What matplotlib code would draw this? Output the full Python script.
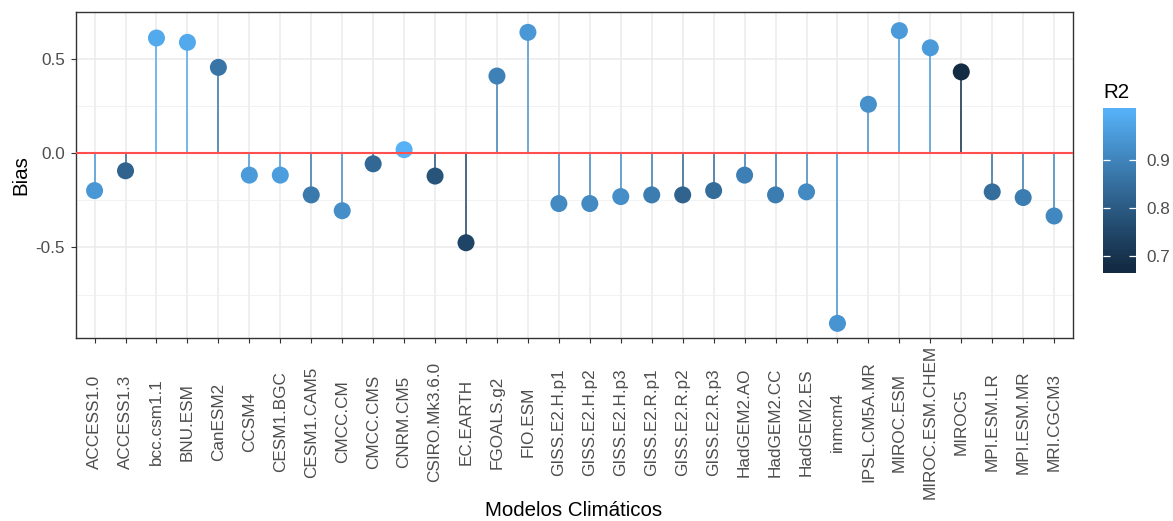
import numpy as np
import matplotlib
matplotlib.use("Agg")
import matplotlib.pyplot as plt
from matplotlib.colors import ListedColormap, Normalize

# ---------------- data ----------------
models = ["ACCESS1.0", "ACCESS1.3", "bcc.csm1.1", "BNU.ESM", "CanESM2", "CCSM4",
          "CESM1.BGC", "CESM1.CAM5", "CMCC.CM", "CMCC.CMS", "CNRM.CM5",
          "CSIRO.Mk3.6.0", "EC.EARTH", "FGOALS.g2", "FIO.ESM", "GISS.E2.H.p1",
          "GISS.E2.H.p2", "GISS.E2.H.p3", "GISS.E2.R.p1", "GISS.E2.R.p2",
          "GISS.E2.R.p3", "HadGEM2.AO", "HadGEM2.CC", "HadGEM2.ES", "inmcm4",
          "IPSL.CM5A.MR", "MIROC.ESM", "MIROC.ESM.CHEM", "MIROC5", "MPI.ESM.LR",
          "MPI.ESM.MR", "MRI.CGCM3"]
bias = [-0.198, -0.093, 0.612, 0.589, 0.456, -0.116,
        -0.116, -0.221, -0.305, -0.056, 0.019,
        -0.121, -0.475, 0.410, 0.642, -0.267,
        -0.267, -0.230, -0.221, -0.221,
        -0.198, -0.116, -0.221, -0.205, -0.903,
        0.260, 0.651, 0.560, 0.432, -0.205,
        -0.235, -0.333]
r2 = [0.94, 0.82, 0.98, 0.98, 0.86, 0.95,
      0.955, 0.87, 0.92, 0.83, 0.999,
      0.78, 0.74, 0.89, 0.94, 0.91,
      0.91, 0.92, 0.88, 0.82,
      0.84, 0.885, 0.88, 0.91, 0.935,
      0.925, 0.95, 0.95, 0.672, 0.845,
      0.88, 0.905]
cbar_ticks = [0.7, 0.8, 0.9]
low_col, high_col = "#132B43", "#56B1F7"

# ---------------- Lab colour ramp (ggplot2 style) ----------------
M = np.array([[0.4124, 0.3576, 0.1805], [0.2126, 0.7152, 0.0722], [0.0193, 0.1192, 0.9505]])
WN = M @ np.ones(3)


def _f(t):
    d = 6 / 29
    return np.where(t > d ** 3, np.cbrt(t), t / (3 * d * d) + 4 / 29)


def _finv(t):
    d = 6 / 29
    return np.where(t > d, t ** 3, 3 * d * d * (t - 4 / 29))


def hex2lab(h):
    c = np.array([int(h[i:i + 2], 16) for i in (1, 3, 5)]) / 255.0
    lin = np.where(c <= 0.04045, c / 12.92, ((c + 0.055) / 1.055) ** 2.4)
    xyz = M @ lin / WN
    fx, fy, fz = _f(xyz)
    return np.array([116 * fy - 16, 500 * (fx - fy), 200 * (fy - fz)])


def lab2rgb(lab):
    L, a, b = lab[:, 0], lab[:, 1], lab[:, 2]
    fy = (L + 16) / 116
    fx = fy + a / 500
    fz = fy - b / 200
    xyz = np.stack([_finv(fx), _finv(fy), _finv(fz)], axis=1) * WN
    lin = xyz @ np.linalg.inv(M).T
    lin = np.clip(lin, 0, 1)
    srgb = np.where(lin <= 0.0031308, 12.92 * lin, 1.055 * np.power(lin, 1 / 2.4) - 0.055)
    return np.clip(srgb, 0, 1)


t = np.linspace(0, 1, 256)[:, None]
lab = hex2lab(low_col)[None, :] * (1 - t) + hex2lab(high_col)[None, :] * t
cmap = ListedColormap(lab2rgb(lab))
norm = Normalize(vmin=min(r2), vmax=max(r2))

# ---------------- figure ----------------
W, H = 1173, 521
fig = plt.figure(figsize=(W / 100, H / 100), dpi=100)
plt.rcParams["font.family"] = ["Liberation Sans", "DejaVu Sans"]

L, R, T, B = 76, 1072.7, 12, 338
ax = fig.add_axes([L / W, 1 - B / H, (R - L) / W, (B - T) / H])

x = np.arange(len(models))
b = np.array(bias)
cols = cmap(norm(np.array(r2)))

ax.vlines(x, 0, b, colors=cols, linewidth=1.1, zorder=2)
ax.scatter(x, b, c=r2, cmap=cmap, norm=norm, s=150, linewidths=0, zorder=3)
ax.axhline(0, color="#FF4F4F", linewidth=1.5, zorder=4)

lo, hi = min(b.min(), 0), max(b.max(), 0)
pad = 0.05 * (hi - lo)
ax.set_ylim(lo - pad, hi + pad)
ax.set_xlim(-0.6, len(models) - 1 + 0.6)

ax.set_yticks([-0.5, 0.0, 0.5])
ax.set_yticklabels(["-0.5", "0.0", "0.5"])
ax.set_yticks([-0.75, -0.25, 0.25, 0.75], minor=True)
ax.set_xticks(x)
ax.set_xticklabels(models, rotation=90, ha="center", va="center")

ax.set_axisbelow(True)
ax.grid(which="major", color="#EBEBEB", linewidth=1.1, zorder=0)
ax.grid(which="minor", axis="y", color="#F0F0F0", linewidth=0.6, zorder=0)

for s in ax.spines.values():
    s.set_color("#333333")
    s.set_linewidth(1.0)

ax.tick_params(axis="both", which="major", length=3.6, width=0.8, color="#333333",
               labelcolor="#4D4D4D", labelsize=12.3)
ax.tick_params(axis="y", which="minor", length=0)
ax.tick_params(axis="y", pad=4.3)
ax.tick_params(axis="x", pad=56.9)

fig.text(574 / W, 1 - 516.5 / H, "Modelos Climáticos", ha="center", va="baseline",
         fontsize=14.8, color="black")
fig.text(21 / W, 1 - 175 / H, "Bias", ha="center", va="center", rotation=90,
         fontsize=14.8, color="black")

# ---------------- colour bar ----------------
cb_l, cb_r, cb_t, cb_b = 1103.3, 1135.7, 108.3, 273.3
cax = fig.add_axes([cb_l / W, 1 - cb_b / H, (cb_r - cb_l) / W, (cb_b - cb_t) / H])
hb = (max(r2) - min(r2)) / 19 / 2
e_lo, e_hi = min(r2) - hb, max(r2) + hb
grad = np.linspace(e_lo, e_hi, 400)[:, None]
cax.imshow(grad, cmap=cmap, norm=norm, aspect="auto", origin="lower",
           extent=(0, 1, e_lo, e_hi), interpolation="bilinear")
cax.set_xlim(0, 1)
cax.set_ylim(e_lo, e_hi)
cax.hlines(cbar_ticks, 0, 0.2, colors="white", linewidth=0.9)
cax.hlines(cbar_ticks, 0.8, 1, colors="white", linewidth=0.9)
cax.set_xticks([])
cax.set_yticks(cbar_ticks)
cax.set_yticklabels([f"{v:.1f}" for v in cbar_ticks])
cax.yaxis.tick_right()
cax.tick_params(axis="y", length=0, pad=8, labelsize=12.3, labelcolor="#4D4D4D")
for s in cax.spines.values():
    s.set_visible(False)

fig.text(cb_l / W, 1 - 97.7 / H, "R2", ha="left", va="baseline", fontsize=14.8,
         color="black")

fig.savefig("out.png", dpi=100)
